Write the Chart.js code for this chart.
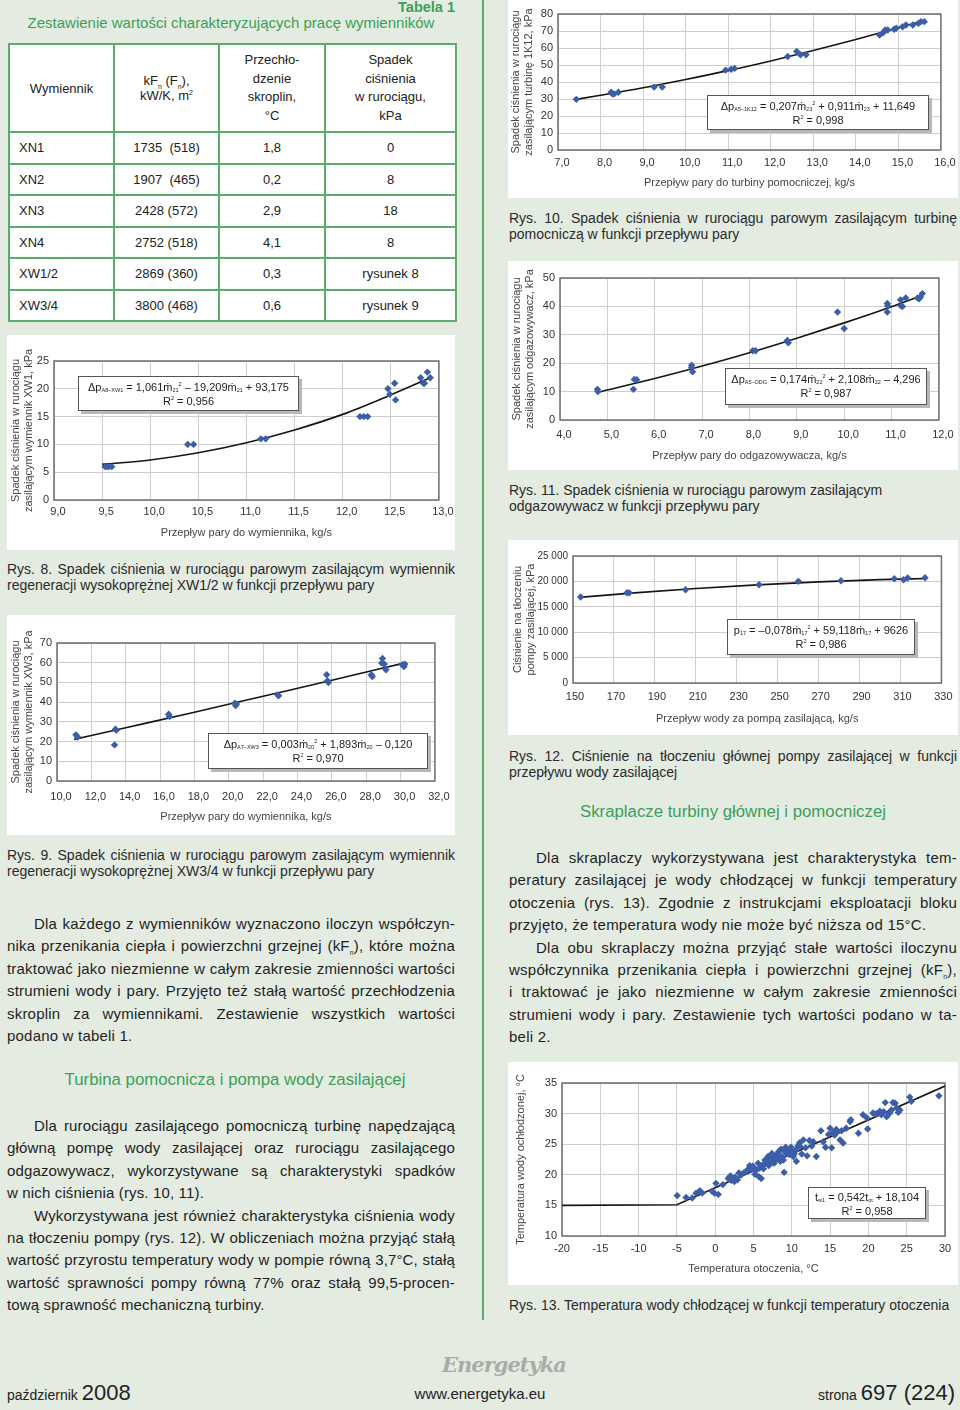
<!DOCTYPE html>
<html lang="pl"><head><meta charset="utf-8">
<script src="https://cdn.jsdelivr.net/npm/chart.js@4"></script>
<style>
body{margin:0;width:960px;height:1410px;background:#e4ece2;position:relative;font-family:"Liberation Sans",Arial,sans-serif;color:#222;overflow:hidden}
.a{position:absolute}
.panel{position:absolute;background:#fff}
.panel canvas{position:absolute;left:0;top:0}
.eq{position:absolute;background:#fff;border:1px solid #555;box-shadow:3px 3px 0 #b8b8b8;font-size:11px;text-align:center;line-height:14px;color:#222;box-sizing:border-box;padding-top:3px;white-space:nowrap}
.eq sub{font-size:5.5px;vertical-align:-1px;line-height:0}
.eq sup{font-size:5.5px;vertical-align:5px;line-height:0}
.cap{position:absolute;font-size:14px;line-height:15.5px;color:#2a2a2a}
.cap .j,.par .j{text-align:justify;text-align-last:justify}
.par{position:absolute;font-size:15px;line-height:22.4px;color:#1e1e1e}
.par div{height:22.4px}
.ind{text-indent:27px}
.green{color:#3c9f58}
table{border-collapse:collapse;position:absolute;left:8px;top:43px;width:449px;font-size:13px;background:#fff}
td{border:2px solid #5cad6c;text-align:center;padding:0;height:29.5px}
td.l{text-align:left;padding-left:9px}
sub.s{font-size:7px;line-height:0}
</style></head><body>

<div class="a" style="left:482px;top:0;width:1.5px;height:1320px;background:#5cab6c"></div>

<div class="a green" style="right:505px;top:-1px;font-size:14.5px;font-weight:bold">Tabela 1</div>
<div class="a green" style="left:0;width:462px;top:14px;text-align:center;font-size:15px">Zestawienie wartości charakteryzujących pracę wymienników</div>
<table>
<tr style="height:88px"><td style="width:103px;height:84px">Wymiennik</td><td style="width:103px">kF<sub class="s">n</sub> (F<sub class="s">n</sub>),<br>kW/K, m<sup style="font-size:7px">2</sup></td><td style="width:104px;line-height:18.5px">Przechło-<br>dzenie<br>skroplin,<br>°C</td><td style="line-height:18.5px">Spadek<br>ciśnienia<br>w rurociągu,<br>kPa</td></tr>
<tr><td class="l">XN1</td><td>1735&nbsp; (518)</td><td>1,8</td><td>0</td></tr>
<tr><td class="l">XN2</td><td>1907&nbsp; (465)</td><td>0,2</td><td>8</td></tr>
<tr><td class="l">XN3</td><td>2428 (572)</td><td>2,9</td><td>18</td></tr>
<tr><td class="l">XN4</td><td>2752 (518)</td><td>4,1</td><td>8</td></tr>
<tr><td class="l">XW1/2</td><td>2869 (360)</td><td>0,3</td><td>rysunek 8</td></tr>
<tr><td class="l">XW3/4</td><td>3800 (468)</td><td>0,6</td><td>rysunek 9</td></tr>
</table>

<div class="panel" style="left:7px;top:335px;width:448px;height:215px"><canvas id="c8" width="448" height="215"></canvas></div>
<div class="eq" style="left:78px;top:376px;width:221px;height:35px">Δp<sub>A8–XW1</sub> = 1,061ṁ<sub>21</sub><sup>2</sup> – 19,209ṁ<sub>21</sub> + 93,175<br>R<sup>2</sup> = 0,956</div>
<div class="cap" style="left:7px;top:562px;width:448px"><div class="j">Rys. 8. Spadek ciśnienia w rurociągu parowym zasilającym wymiennik</div><div>regeneracji wysokoprężnej XW1/2 w funkcji przepływu pary</div></div>

<div class="panel" style="left:7px;top:615px;width:448px;height:220px"><canvas id="c9" width="448" height="220"></canvas></div>
<div class="eq" style="left:208px;top:733px;width:220px;height:36px">Δp<sub>A7–XW3</sub> = 0,003ṁ<sub>20</sub><sup>2</sup> + 1,893ṁ<sub>20</sub> – 0,120<br>R<sup>2</sup> = 0,970</div>
<div class="cap" style="left:7px;top:848px;width:448px"><div class="j">Rys. 9. Spadek ciśnienia w rurociągu parowym zasilającym wymiennik</div><div>regeneracji wysokoprężnej XW3/4 w funkcji przepływu pary</div></div>

<div class="par" style="left:7px;top:913px;width:448px;letter-spacing:0.2px">
<div class="j ind">Dla każdego z wymienników wyznaczono iloczyn współczyn-</div>
<div class="j">nika przenikania ciepła i powierzchni grzejnej (kF<sub class="s">n</sub>), które można</div>
<div class="j">traktować jako niezmienne w całym zakresie zmienności wartości</div>
<div class="j">strumieni wody i pary. Przyjęto też stałą wartość przechłodzenia</div>
<div class="j">skroplin za wymiennikami. Zestawienie wszystkich wartości</div>
<div>podano w tabeli 1.</div>
</div>

<div class="a green" style="left:0;width:470px;top:1070px;text-align:center;font-size:16.8px">Turbina pomocnicza i pompa wody zasilającej</div>
<div class="par" style="left:7px;top:1115px;width:448px;letter-spacing:0.15px">
<div class="j ind">Dla rurociągu zasilającego pomocniczą turbinę napędzającą</div>
<div class="j">główną pompę wody zasilającej oraz rurociągu zasilającego</div>
<div class="j">odgazowywacz, wykorzystywane są charakterystyki spadków</div>
<div>w nich ciśnienia (rys. 10, 11).</div>
<div class="j ind">Wykorzystywana jest również charakterystyka ciśnienia wody</div>
<div class="j">na tłoczeniu pompy (rys. 12). W obliczeniach można przyjąć stałą</div>
<div class="j">wartość przyrostu temperatury wody w pompie równą 3,7°C, stałą</div>
<div class="j">wartość sprawności pompy równą 77% oraz stałą 99,5-procen-</div>
<div>tową sprawność mechaniczną turbiny.</div>
</div>

<div class="panel" style="left:508px;top:0;width:450px;height:198px"><canvas id="c10" width="450" height="198"></canvas></div>
<div class="eq" style="left:707px;top:95px;width:222px;height:35px">Δp<sub>A5–1K12</sub> = 0,207ṁ<sub>23</sub><sup>2</sup> + 0,911ṁ<sub>23</sub> + 11,649<br>R<sup>2</sup> = 0,998</div>
<div class="cap" style="left:509px;top:211px;width:448px"><div class="j">Rys. 10. Spadek ciśnienia w rurociągu parowym zasilającym turbinę</div><div>pomocniczą w funkcji przepływu pary</div></div>

<div class="panel" style="left:508px;top:261px;width:450px;height:209px"><canvas id="c11" width="450" height="209"></canvas></div>
<div class="eq" style="left:725px;top:368px;width:202px;height:37px">Δp<sub>A5–ODG</sub> = 0,174ṁ<sub>22</sub><sup>2</sup> + 2,108ṁ<sub>22</sub> – 4,296<br>R<sup>2</sup> = 0,987</div>
<div class="cap" style="left:509px;top:483px;width:448px"><div>Rys. 11. Spadek ciśnienia w rurociągu parowym zasilającym</div><div>odgazowywacz w funkcji przepływu pary</div></div>

<div class="panel" style="left:508px;top:540px;width:450px;height:195px"><canvas id="c12" width="450" height="195"></canvas></div>
<div class="eq" style="left:727px;top:619px;width:188px;height:36px">p<sub>17</sub> = –0,078ṁ<sub>17</sub><sup>2</sup> + 59,118ṁ<sub>17</sub> + 9626<br>R<sup>2</sup> = 0,986</div>
<div class="cap" style="left:509px;top:749px;width:448px"><div class="j">Rys. 12. Ciśnienie na tłoczeniu głównej pompy zasilającej w funkcji</div><div>przepływu wody zasilającej</div></div>

<div class="a green" style="left:490px;width:486px;top:802px;text-align:center;font-size:16.8px">Skraplacze turbiny głównej i pomocniczej</div>
<div class="par" style="left:509px;top:847px;width:448px;letter-spacing:0.25px">
<div class="j ind">Dla skraplaczy wykorzystywana jest charakterystyka tem-</div>
<div class="j">peratury zasilającej je wody chłodzącej w funkcji temperatury</div>
<div class="j">otoczenia (rys. 13). Zgodnie z instrukcjami eksploatacji bloku</div>
<div>przyjęto, że temperatura wody nie może być niższa od 15°C.</div>
<div class="j ind">Dla obu skraplaczy można przyjąć stałe wartości iloczynu</div>
<div class="j">współczynnika przenikania ciepła i powierzchni grzejnej (kF<sub class="s">n</sub>),</div>
<div class="j">i traktować je jako niezmienne w całym zakresie zmienności</div>
<div class="j">strumieni wody i pary. Zestawienie tych wartości podano w ta-</div>
<div>beli 2.</div>
</div>

<div class="panel" style="left:508px;top:1062px;width:450px;height:223px"><canvas id="c13" width="450" height="223"></canvas></div>
<div class="eq" style="left:808px;top:1187px;width:118px;height:32px;padding-top:2px">t<sub>w1</sub> = 0,542t<sub>ot</sub> + 18,104<br>R<sup>2</sup> = 0,958</div>
<div class="cap" style="left:509px;top:1298px;width:448px"><div>Rys. 13. Temperatura wody chłodzącej w funkcji temperatury otoczenia</div></div>

<div class="a" style="left:442px;top:1352px;font:italic bold 21px 'DejaVu Serif',serif;color:#a9aca8;letter-spacing:-1px">Energetyka</div>
<div class="a" style="left:7px;top:1380px;font-size:14px"><span>październik</span> <span style="font-size:22px">2008</span></div>
<div class="a" style="left:380px;width:200px;top:1385px;text-align:center;font-size:15px">www.energetyka.eu</div>
<div class="a" style="right:5px;top:1380px;font-size:14px"><span>strona</span> <span style="font-size:22px">697 (224)</span></div>

<script>
// Rys. 8
const r8x=[9.53,9.55,9.57,9.6,10.39,10.45,11.15,11.2,12.18,12.22,12.26,12.47,12.49,12.54,12.55,12.81,12.84,12.85,12.88,12.91];
const r8y=[6,6,6,6,10,10,11,11,15,15,15,20,19,21,18,22,21,21,23,22];
const r8tx=[9.5,10,10.5,11,11.5,12,12.5,12.9];
const r8ty=[6.4,7.2,8.5,10.3,12.6,15.4,18.9,21.9];
// Rys. 9
const r9x=[11.1,11.2,13.4,13.45,13.35,16.5,16.55,20.35,20.4,20.45,22.85,22.9,25.7,25.75,25.8,28.3,28.35,28.95,28.9,29.05,29.15,30.1,30.2,30.25];
const r9y=[23.4,22.3,26.3,25.8,18.3,33.9,32.7,39.5,38.3,39,43.7,43.2,53.9,50.8,50,53.9,53,62.2,59.8,59.3,56.4,59,58.1,59.3];
const r9tx=[11,14,18,22,26,30.2];
const r9ty=[21.1,27,34.9,43,51.1,59.8];
// Rys. 10
const r10x=[7.43,8.25,8.28,8.32,8.42,9.26,9.45,10.94,11.07,11.15,12.4,12.61,12.7,12.83,14.56,14.64,14.69,14.75,14.9,14.95,15.1,15.18,15.34,15.47,15.53,15.61];
const r10y=[29.8,34,33,33,34,37,37,47,47.5,48,55,58,56,56,67.6,69,70.6,70.6,71,71.6,72.5,73.5,73.5,74.5,75.5,75.5];
const r10tx=[7.4,8,9,10,11,12,13,14,15,15.6];
const r10ty=[29.7,32.2,36.6,41.5,46.7,52.4,58.5,65,71.9,76.2];
// Rys. 11
const r11x=[4.79,4.8,5.55,5.57,5.62,6.78,6.78,6.8,8.07,8.13,8.8,8.82,9.86,10.0,10.91,10.92,10.91,11.19,11.2,11.23,11.3,11.55,11.58,11.61,11.65];
const r11y=[10.8,10,10.8,14.3,14.2,19.3,18.5,17,24.4,24.4,28,27.2,38,32.2,41,40.2,38,42.3,40.2,40,43,43,42.7,43.3,44.5];
const r11tx=[4.8,6,7,8,9,10,11,11.6];
const r11ty=[9.8,14.6,19,23.7,28.8,34.2,39.9,43.6];
// Rys. 12
const r12x=[153.7,176.4,177.5,205,240.9,260.1,280.9,307,311.5,313.5,322];
const r12y=[16930,17780,17750,18370,19350,20010,20140,20530,20330,20660,20730];
const r12tx=[153,180,210,240,270,300,323];
const r12ty=[16850,17740,18600,19320,19900,20340,20580];
// Rys. 13
const r13x=[-4.96,-3.8,-3.0,-2.5,-2.0,-1.7,-0.4,-0.1,0.1,0.4,1.0,1.7,1.9,2.1,2.3,2.5,2.9,3.4,3.8,4.3,4.5,4.7,4.9,5.2,5.4,5.6,5.7,5.8,6.0,6.2,6.5,6.7,6.9,7.0,7.2,7.4,7.6,7.7,7.8,8.0,8.1,8.3,8.4,8.6,8.7,8.9,9.0,9.2,9.3,9.5,9.7,9.9,10.2,10.5,10.6,10.8,11.0,11.3,11.5,11.8,12.0,12.3,12.6,13.2,13.8,14.1,14.4,15.0,15.2,15.4,15.6,15.8,16.0,16.3,16.7,17.1,17.6,17.7,18.7,19.3,19.8,19.9,20.6,21.1,21.5,21.7,22.2,22.4,22.8,23.0,23.2,23.5,23.7,23.9,24.1,25.4,25.6,29.2,
  2.0,2.6,3.1,4.1,5.0,6.3,6.8,7.3,7.5,8.2,8.5,9.1,9.6,10.0,10.3,11.1,12.8,14.8,16.5,20.9,22.0];
const r13y=[16.6,16.3,16.2,17.0,17.4,17.0,17.3,17.0,18.6,16.8,18.4,19.4,19.7,19.1,19.4,18.9,19.2,20.0,20.4,20.9,21.5,20.8,21.4,20.1,20.8,21.9,19.7,21.1,19.4,21.6,22.4,21.9,23.0,21.5,22.4,23.5,22.7,21.9,23.0,22.6,23.4,23.8,22.7,24.2,23.0,22.4,20.4,24.5,23.5,24.1,23.3,24.5,23.0,24.0,22.2,24.7,25.2,23.4,25.7,24.4,23.1,25.6,24.7,23.0,27.2,25.4,24.5,27.6,24.4,26.9,26.5,27.4,27.1,25.7,25.2,27.6,28.7,29.0,26.8,29.8,29.3,27.5,30.1,30.0,30.4,29.8,31.8,29.5,30.1,30.6,31.8,31.7,30.9,30.2,30.6,32.7,32.0,32.9,
  19.8,19.6,20.3,20.6,21.2,21.0,22.0,22.8,22.1,23.1,22.2,23.8,23.6,23.9,23.4,24.6,25.4,26.6,27.2,29.9,30.3];
const r13tx=[-20,-5,30];
const r13ty=[15,15.1,34.5];

const pts=(xs,ys)=>xs.map((x,i)=>({x,y:ys[i]}));
const dec=v=>v.toFixed(1).replace('.',',');
const frame={id:'frame',beforeDatasetsDraw(ch){const a=ch.chartArea,c=ch.ctx;c.save();c.strokeStyle='#6e6e6e';c.lineWidth=1.5;c.strokeRect(a.left,a.top,a.right-a.left,a.bottom-a.top);c.restore();}};

function plot(id,o){
  const cv=document.getElementById(id),W=cv.width,H=cv.height;
  const tf=11,lh=tf*1.2;
  const padL=o.yt-lh/2, padB=H-o.xt-lh/2;
  new Chart(cv,{
    type:'scatter',
    data:{datasets:[
      {data:pts(o.x,o.y),pointStyle:'rectRot',pointRadius:3.7,pointHoverRadius:3.7,backgroundColor:'#3c5da8',borderColor:'#3c5da8',borderWidth:0},
      {data:pts(o.tx,o.ty),showLine:true,borderColor:'#151515',borderWidth:1.6,pointRadius:0,tension:o.lin?0:0.4,cubicInterpolationMode:o.lin?'default':'monotone'}
    ]},
    options:{
      responsive:false,animation:false,events:[],
      layout:{autoPadding:false,padding:{left:padL,top:o.T,right:W-o.R,bottom:padB}},
      plugins:{legend:{display:false},tooltip:{enabled:false}},
      scales:{
        x:{type:'linear',min:o.xmin,max:o.xmax,
          grid:{color:'#cfcfcf',lineWidth:1,drawTicks:false},border:{display:false},
          ticks:{stepSize:o.xs,padding:o.xp-o.B-6.6,labelOffset:o.lo||0,color:'#333',font:{family:'Liberation Sans',size:o.xf||11},callback:o.xfmt||dec},
          title:{display:true,text:o.xtitle,color:'#444',padding:0,font:{family:'Liberation Sans',size:tf}},
          afterFit(s){s.height=(H-padB)-o.B;}},
        y:{type:'linear',min:o.ymin,max:o.ymax,
          grid:{color:'#cfcfcf',lineWidth:1,drawTicks:false},border:{display:false},
          ticks:{stepSize:o.ys,padding:5,color:'#333',font:{family:'Liberation Sans',size:o.yf||11},callback:o.yfmt||(v=>v)},
          title:{display:true,text:o.ytitle,color:'#444',padding:0,font:{family:'Liberation Sans',size:tf}},
          afterFit(s){s.width=o.L-padL;}}
      }
    },
    plugins:[frame]
  });
}

plot('c8',{x:r8x,y:r8y,tx:r8tx,ty:r8ty,xmin:9,xmax:13,xs:0.5,ymin:0,ymax:25,ys:5,
  L:47,R:433,T:26,B:165,xp:177,xt:198,yt:9,lo:4,
  xtitle:'Przepływ pary do wymiennika, kg/s',ytitle:['Spadek ciśnienia w rurociągu','zasilającym wymiennik XW1, kPa']});
plot('c9',{x:r9x,y:r9y,tx:r9tx,ty:r9ty,xmin:10,xmax:32,xs:2,ymin:0,ymax:70,ys:10,
  L:50,R:435,T:28,B:166,xp:182,xt:202,yt:9,lo:4,
  xtitle:'Przepływ pary do wymiennika, kg/s',ytitle:['Spadek ciśnienia w rurociągu','zasilającym wymiennik XW3, kPa']});
plot('c10',{x:r10x,y:r10y,tx:r10tx,ty:r10ty,xmin:7,xmax:16,xs:1,ymin:0,ymax:80,ys:10,
  L:50,R:435,T:14,B:150,xp:163,xt:183,yt:8,lo:4,
  xtitle:'Przepływ pary do turbiny pomocniczej, kg/s',ytitle:['Spadek ciśnienia w rurociągu','zasilającym turbinę 1K12, kPa']});
plot('c11',{x:r11x,y:r11y,tx:r11tx,ty:r11ty,xmin:4,xmax:12,xs:1,ymin:0,ymax:50,ys:10,
  L:52,R:435,T:17,B:159,xp:174,xt:195,yt:9,lo:4,
  xtitle:'Przepływ pary do odgazowywacza, kg/s',ytitle:['Spadek ciśnienia w rurociągu','zasilającym odgazowywacz, kPa']});
plot('c12',{x:r12x,y:r12y,tx:r12tx,ty:r12ty,xmin:150,xmax:330,xs:20,ymin:0,ymax:25000,ys:5000,
  L:65,R:439,T:16,B:143,xp:157,xt:179,yt:10,yf:10,lo:2,
  xfmt:v=>v,yfmt:v=>v===0?'0':Math.floor(v/1000)+' 000',
  xtitle:'Przepływ wody za pompą zasilającą, kg/s',ytitle:['Ciśnienie na tłoczeniu','pompy zasilającej, kPa']});
plot('c13',{x:r13x,y:r13y,tx:r13tx,ty:r13ty,xmin:-20,xmax:30,xs:5,ymin:10,ymax:35,ys:5,lin:true,
  L:54,R:437,T:21,B:174,xp:187,xt:207,yt:13,
  xfmt:v=>v,
  xtitle:'Temperatura otoczenia, °C',ytitle:'Temperatura wody ochłodzonej, °C'});
</script>
</body></html>
